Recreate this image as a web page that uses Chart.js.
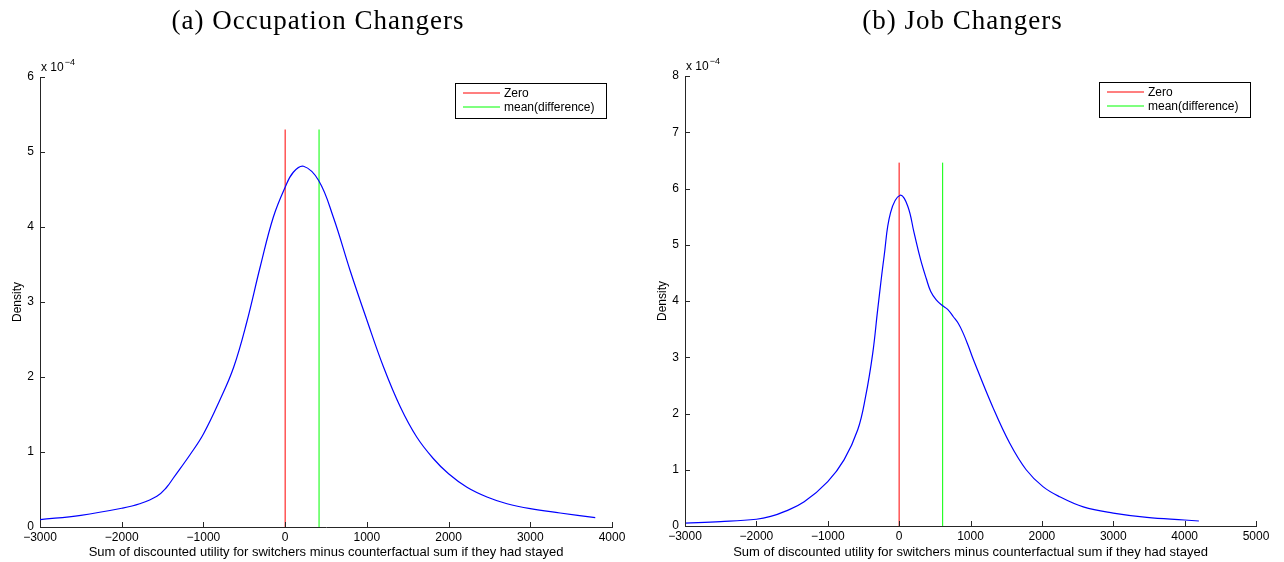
<!DOCTYPE html>
<html>
<head>
<meta charset="utf-8">
<script src="https://cdn.jsdelivr.net/npm/chart.js@4"></script>
<style>
  body { margin: 0; background: #fff; }
  .wrap { position: absolute; top: 0; width: 642px; height: 562px; }
</style>
</head>
<body>
<div class="wrap" style="left:0"><canvas id="occChart" width="642" height="562"></canvas></div>
<div class="wrap" style="left:642px"><canvas id="jobChart" width="642" height="562"></canvas></div>
<script>
// (a) occupation changers, density in units of 1e-4
const occX = [-3000, -2500, -2000, -1780, -1570, -1450, -1370, -1160, -1000, -800, -630, -470, -305, -145, 0, 100, 225, 410, 590, 795, 1000, 1205, 1410, 1610, 1815, 2000, 2225, 2470, 2715, 3000, 3365, 3795];
const occY = [0.098, 0.156, 0.25, 0.31, 0.41, 0.53, 0.65, 0.97, 1.24, 1.69, 2.13, 2.73, 3.47, 4.13, 4.53, 4.73, 4.81, 4.62, 4.13, 3.42, 2.76, 2.13, 1.6, 1.2, 0.91, 0.71, 0.53, 0.4, 0.31, 0.244, 0.187, 0.124];
const occMean = 415;
const occLineTop = 5.3;

// (b) job changers
const jobX = [-3000, -2500, -2000, -1800, -1600, -1330, -1000, -770, -580, -470, -370, -300, -210, -120, 15, 120, 210, 300, 380, 443, 520, 606, 680, 760, 830, 900, 970, 1040, 1310, 1550, 1780, 2015, 2250, 2580, 3000, 3470, 4000, 4200];
const jobY = [0.05, 0.077, 0.12, 0.17, 0.26, 0.43, 0.79, 1.18, 1.71, 2.3, 3.07, 3.85, 4.8, 5.57, 5.88, 5.69, 5.21, 4.74, 4.4, 4.17, 4.02, 3.92, 3.85, 3.72, 3.6, 3.42, 3.2, 2.96, 2.12, 1.47, 1.0, 0.70, 0.52, 0.34, 0.23, 0.154, 0.107, 0.089];
const jobMean = 610;
const jobLineTop = 6.46;

const legendLabels = ['Zero', 'mean(difference)'];
const legendColors = ['rgb(255,0,0)', 'rgb(0,255,0)'];
const xTitle = 'Sum of discounted utility for switchers minus counterfactual sum if they had stayed';
const yTitle = 'Density';

const sans = '"Liberation Sans", Arial, sans-serif';
const axisColor = '#262626';

const fmt = v => String(v).replace('-', '\u2212');

const decor = {
  id: 'decor',
  afterDraw(chart, args, o) {
    const { ctx, chartArea: a, scales: { x, y } } = chart;
    ctx.save();
    // inward tick marks
    ctx.strokeStyle = axisColor;
    ctx.lineWidth = 1;
    ctx.beginPath();
    x.ticks.forEach(t => {
      const px = Math.round(x.getPixelForValue(t.value)) + 0.5;
      ctx.moveTo(px, a.bottom);
      ctx.lineTo(px, a.bottom - 5);
    });
    y.ticks.forEach(t => {
      const py = Math.round(y.getPixelForValue(t.value)) + 0.5;
      ctx.moveTo(a.left, py);
      ctx.lineTo(a.left + 5, py);
    });
    ctx.stroke();

    // exponent label
    ctx.fillStyle = '#000';
    ctx.font = '12px ' + sans;
    ctx.textBaseline = 'alphabetic';
    ctx.textAlign = 'left';
    ctx.fillText('x 10', a.left + 1, a.top - 6);
    const w = ctx.measureText('x 10').width;
    ctx.font = '9px ' + sans;
    ctx.fillText('\u22124', a.left + 2 + w, a.top - 12);

    // title
    ctx.font = '27px "Liberation Serif", "Times New Roman", serif';
    ctx.letterSpacing = '1px';
    ctx.textAlign = 'center';
    ctx.textBaseline = 'middle';
    ctx.fillText(o.title, (a.left + a.right) / 2 - 8, 22);
    ctx.letterSpacing = '0px';

    // legend box
    const bw = 151, bh = 35;
    const bx = Math.round(a.right - 6 - bw), by = Math.round(a.top + 6);
    ctx.fillStyle = '#fff';
    ctx.fillRect(bx, by, bw, bh);
    ctx.strokeStyle = '#000';
    ctx.lineWidth = 1;
    ctx.strokeRect(bx + 0.5, by + 0.5, bw, bh);
    ctx.font = '12px ' + sans;
    ctx.textAlign = 'left';
    legendLabels.forEach((label, i) => {
      const ly = by + 10 + i * 14;
      ctx.strokeStyle = legendColors[i];
      ctx.lineWidth = 1.2;
      ctx.beginPath();
      ctx.moveTo(bx + 8, ly);
      ctx.lineTo(bx + 45, ly);
      ctx.stroke();
      ctx.fillStyle = '#000';
      ctx.fillText(label, bx + 49, ly + 0.5);
    });
    ctx.restore();
  }
};

function makeChart(id, title, xs, ys, mean, lineTop, xMax, yMax, pad, yw, xh, yTitlePad) {
  const curve = xs.map((v, i) => ({ x: v, y: ys[i] }));
  new Chart(document.getElementById(id), {
    type: 'line',
    data: {
      datasets: [
        {
          data: curve,
          borderColor: 'rgb(0,0,255)',
          borderWidth: 1.2,
          pointRadius: 0,
          tension: 0.4
        },
        {
          label: legendLabels[0],
          data: [{ x: 0, y: 0 }, { x: 0, y: lineTop }],
          borderColor: legendColors[0],
          borderWidth: 1,
          pointRadius: 0
        },
        {
          label: legendLabels[1],
          data: [{ x: mean, y: 0 }, { x: mean, y: lineTop }],
          borderColor: legendColors[1],
          borderWidth: 1,
          pointRadius: 0
        }
      ]
    },
    options: {
      responsive: false,
      animation: false,
      layout: { padding: pad },
      plugins: {
        legend: { display: false },
        tooltip: { enabled: false },
        decor: { title: title }
      },
      scales: {
        x: {
          type: 'linear',
          min: -3000,
          max: xMax,
          afterFit: s => { s.height = xh; },
          grid: { display: false, drawTicks: false },
          border: { display: true, color: axisColor, width: 1 },
          ticks: {
            stepSize: 1000,
            padding: 3,
            color: '#000',
            font: { family: sans, size: 12 },
            maxRotation: 0,
            callback: fmt
          },
          title: {
            display: true,
            text: xTitle,
            color: '#000',
            font: { family: sans, size: 13 },
            padding: { top: 0, bottom: 2 }
          }
        },
        y: {
          min: 0,
          max: yMax,
          afterFit: s => { s.width = yw; },
          grid: { display: false, drawTicks: false },
          border: { display: true, color: axisColor, width: 1 },
          ticks: {
            stepSize: 1,
            padding: 6,
            color: '#000',
            font: { family: sans, size: 12 },
            callback: fmt
          },
          title: {
            display: true,
            text: yTitle,
            color: '#000',
            font: { family: sans, size: 12 },
            padding: { top: yTitlePad, bottom: 0 }
          }
        }
      }
    },
    plugins: [decor]
  });
}

makeChart('occChart', '(a) Occupation Changers', occX, occY, occMean, occLineTop, 4000, 6,
  { left: 0, right: 30, top: 77, bottom: 0 }, 40, 35, 10);
makeChart('jobChart', '(b) Job Changers', jobX, jobY, jobMean, jobLineTop, 5000, 8,
  { left: 0, right: 28, top: 76, bottom: 0 }, 43, 36, 13);
</script>
</body>
</html>
